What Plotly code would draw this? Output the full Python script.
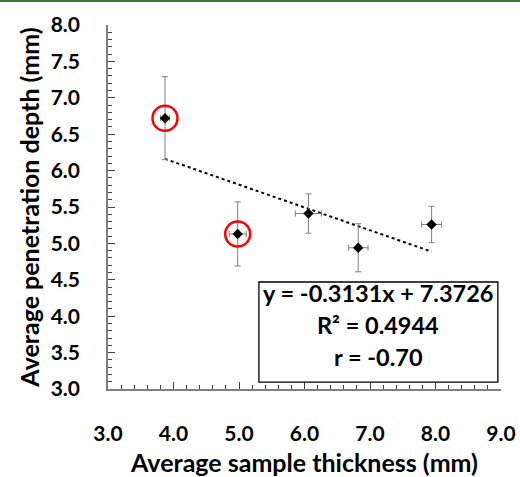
import plotly.graph_objects as go

# Data
thickness = [3.87, 4.98, 6.06, 6.82, 7.94]
depth = [6.72, 5.13, 5.41, 4.94, 5.26]
depth_err = [0.57, 0.44, 0.27, 0.33, 0.25]
thickness_err = [0.07, 0.13, 0.20, 0.15, 0.15]
highlighted = [0, 1]  # indices of circled points
slope = -0.3131
intercept = 7.3726
r2 = 0.4944
r_val = -0.70

x_ticks = [3.0, 4.0, 5.0, 6.0, 7.0, 8.0, 9.0]
y_ticks = [3.0, 3.5, 4.0, 4.5, 5.0, 5.5, 6.0, 6.5, 7.0, 7.5, 8.0]

FONT = "Lato"

fig = go.Figure()

# trendline
tx = [min(thickness), max(thickness)]
ty = [slope * v + intercept for v in tx]
fig.add_trace(go.Scatter(x=tx, y=ty, mode="lines",
                         line=dict(color="black", width=2, dash="dot"),
                         showlegend=False, hoverinfo="skip"))

# data points with error bars
fig.add_trace(go.Scatter(
    x=thickness, y=depth, mode="markers",
    marker=dict(symbol="diamond", size=8, color="black"),
    error_y=dict(type="data", array=depth_err, color="#808080", thickness=1, width=3),
    error_x=dict(type="data", array=thickness_err, color="#808080", thickness=1, width=3),
    showlegend=False))

# red highlight circles
fig.add_trace(go.Scatter(
    x=[thickness[i] for i in highlighted], y=[depth[i] for i in highlighted],
    mode="markers",
    marker=dict(symbol="circle-open", size=25, color="#ff0000", line=dict(width=2.5, color="#ff0000")),
    showlegend=False, hoverinfo="skip"))

# equation box
fig.add_shape(type="rect", xref="paper", yref="paper",
              x0=0.384, x1=0.992, y0=0.019, y1=0.294,
              line=dict(color="black", width=1.3), fillcolor="white", layer="above")
lines = [f"y = {slope}x + {intercept}", f"R² = {r2}", f"r = {r_val:.2f}"]
ys = [0.264, 0.176, 0.088]
for txt, yy in zip(lines, ys):
    fig.add_annotation(xref="paper", yref="paper", x=0.688, y=yy,
                       xanchor="center", yanchor="middle", text=txt, showarrow=False,
                       font=dict(family=FONT, size=23.5, color="black", weight="bold"))

# green strip at top
fig.add_shape(type="rect", xref="paper", yref="paper", x0=-0.3, x1=1.1,
              y0=1.0 + 23 / 364, y1=1.0 + 26 / 364, fillcolor="#3f7a3f",
              line=dict(width=0), layer="above")

axis_common = dict(
    showgrid=False, zeroline=False, showline=True, linecolor="#7f7f7f", linewidth=1.5,
    ticks="inside", ticklen=7, tickcolor="#404040", tickwidth=1.2,
    tickfont=dict(family=FONT, size=21, color="black", weight="bold"),
    mirror=False, automargin=False,
)

fig.update_layout(
    width=520, height=477,
    margin=dict(l=108, r=19, t=25, b=88),
    paper_bgcolor="white", plot_bgcolor="white",
    xaxis=dict(range=[3, 9], tickvals=x_ticks, ticktext=[f"{v:.1f}" for v in x_ticks],
               minor=dict(dtick=0.2, ticks="inside", ticklen=4, tickcolor="#404040", tickwidth=1),
               title=dict(text="Average sample thickness (mm)", standoff=13,
                          font=dict(family=FONT, size=25, color="black", weight="bold")),
               ticklabelstandoff=25,
               **axis_common),
    yaxis=dict(range=[3, 8], tickvals=y_ticks, ticktext=[f"{v:.1f}" for v in y_ticks],
               minor=dict(dtick=0.1, ticks="inside", ticklen=4, tickcolor="#404040", tickwidth=1),
               title=dict(text="Average penetration depth (mm)", standoff=4,
                          font=dict(family=FONT, size=25, color="black", weight="bold")),
               ticklabelstandoff=22,
               **axis_common),
)

fig.write_html("out.html", config={"displayModeBar": False},
               post_script="document.body.style.margin='0';document.body.style.overflow='hidden';")
